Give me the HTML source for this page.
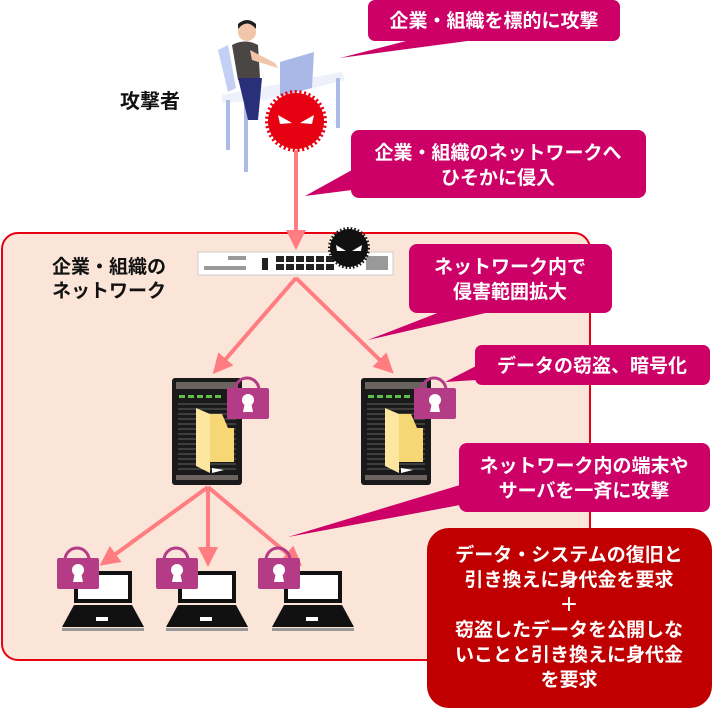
<!DOCTYPE html>
<html><head><meta charset="utf-8"><style>
html,body{margin:0;padding:0;background:#fff;}
svg{display:block;}
text{font-family:"Liberation Sans","Noto Sans CJK JP",sans-serif;font-weight:bold;}
</style></head><body>
<svg width="713" height="709" viewBox="0 0 713 709" xmlns="http://www.w3.org/2000/svg">
<defs>
<g id="lock">
<path d="M8 10 A12 12 0 0 1 32 10" fill="none" stroke="#b43c86" stroke-width="3"/>
<rect x="0" y="8" width="42" height="31" rx="2" fill="#b43c86"/>
<circle cx="21" cy="20" r="6" fill="#fff"/>
<path d="M18 22 L16 32 L26 32 L24 22Z" fill="#fff"/>
</g>
<g id="laptop">
<rect x="14" y="0" width="58" height="32" fill="#111"/>
<rect x="18" y="4" width="50" height="24" fill="#fff"/>
<path d="M14 34 L72 34 L84 56 L2 56 Z" fill="#111"/>
<rect x="36" y="46" width="12" height="4" fill="#fff"/>
<rect x="2" y="57" width="82" height="3" fill="#999"/>
</g>
<g id="server">
<rect x="0" y="0" width="70" height="107" rx="3" fill="#1a1a1a"/>
<rect x="4" y="4" width="62" height="7" fill="#6b6360"/>
<g fill="#5fbf4a"><rect x="7" y="17" width="6" height="3"/><rect x="16" y="17" width="6" height="3"/><rect x="25" y="17" width="6" height="3"/><rect x="34" y="17" width="6" height="3"/><rect x="43" y="17" width="6" height="3"/></g>
<g stroke="#555" stroke-width="1.2">
<line x1="6" y1="26" x2="64" y2="26"/><line x1="6" y1="31" x2="64" y2="31"/><line x1="6" y1="36" x2="64" y2="36"/><line x1="6" y1="41" x2="64" y2="41"/><line x1="6" y1="46" x2="64" y2="46"/><line x1="6" y1="51" x2="64" y2="51"/><line x1="6" y1="56" x2="64" y2="56"/><line x1="6" y1="61" x2="64" y2="61"/><line x1="6" y1="66" x2="64" y2="66"/><line x1="6" y1="71" x2="64" y2="71"/><line x1="6" y1="76" x2="64" y2="76"/><line x1="6" y1="81" x2="64" y2="81"/><line x1="6" y1="86" x2="64" y2="86"/><line x1="6" y1="91" x2="64" y2="91"/></g>
<rect x="4" y="97" width="62" height="5" fill="#6b6360"/>
<path d="M38 36 L50 36 L56 50 L62 50 L62 84 L38 84Z" fill="#f5d776"/>
<path d="M38 36 L38 95 L24 88 L24 30Z" fill="#fde7a0"/>
<path d="M40 95 L52 92 L40 90Z" fill="#fff"/>
</g>
<marker id="ah" markerWidth="5" markerHeight="5" refX="3" refY="2.5" orient="auto"><path d="M0 0 L5 2.5 L0 5Z" fill="#ff7c80"/></marker>
</defs>

<rect x="2" y="233" width="588" height="427" rx="16" fill="#fbe5d8" stroke="#e60012" stroke-width="2"/>

<!-- attacker figure -->
<g>
<path d="M218 50 L228 45 L236 88 L228 92Z" fill="#c3cff3"/>
<path d="M222 95 L300 80 L342 72 L345 80 L265 100 L222 103Z" fill="#eef1fc"/>
<line x1="228" y1="100" x2="228" y2="150" stroke="#aebbe6" stroke-width="4"/>
<line x1="246" y1="103" x2="246" y2="172" stroke="#aebbe6" stroke-width="4"/>
<line x1="338" y1="78" x2="338" y2="128" stroke="#aebbe6" stroke-width="4"/>
<path d="M232 45 Q245 38 258 45 L260 78 L238 80Z" fill="#4a4644"/>
<path d="M250 50 L275 63 L278 68 L252 60Z" fill="#f1c6a8"/>
<circle cx="247" cy="32" r="9" fill="#f1c6a8"/>
<path d="M238 29 Q247 18 256 29 L256 24 Q247 16 238 24Z" fill="#1e1e1e"/>
<path d="M238 78 L262 78 L258 120 L248 120Z" fill="#2a2f7a"/>
<path d="M280 62 L314 52 L312 88 L280 96Z" fill="#aab8e8"/>
</g>
<g transform="translate(296,121)">
<circle r="28" fill="#e60012" stroke="#e60012" stroke-width="6" stroke-dasharray="2 2.5"/>
<circle r="26" fill="#e60012"/>
<path d="M-18 -6 L-4 2 L-16 3Z" fill="#fff"/><path d="M18 -6 L4 2 L16 3Z" fill="#fff"/>
</g>
<text x="120" y="108" font-size="20" fill="#111">攻撃者</text>

<line x1="296" y1="150" x2="296" y2="242" stroke="#ff7c80" stroke-width="4" marker-end="url(#ah)"/>
<rect x="198" y="252" width="195" height="23" fill="#fff" stroke="#ccc"/>
<g fill="#222"><rect x="262" y="258" width="6" height="12"/>
<rect x="276" y="256" width="8" height="6"/><rect x="286" y="256" width="8" height="6"/><rect x="296" y="256" width="8" height="6"/><rect x="306" y="256" width="8" height="6"/><rect x="316" y="256" width="8" height="6"/><rect x="326" y="256" width="8" height="6"/>
<rect x="276" y="264" width="8" height="6"/><rect x="286" y="264" width="8" height="6"/><rect x="296" y="264" width="8" height="6"/><rect x="306" y="264" width="8" height="6"/><rect x="316" y="264" width="8" height="6"/><rect x="326" y="264" width="8" height="6"/></g>
<g fill="#999"><rect x="228" y="256" width="18" height="4"/><rect x="204" y="266" width="42" height="4"/><rect x="366" y="256" width="22" height="14"/></g>
<g transform="translate(349,248)">
<circle r="19" fill="#111" stroke="#111" stroke-width="4" stroke-dasharray="1.5 2"/>
<path d="M-13 -3 L-3 3 L-12 3Z" fill="#fff"/><path d="M13 -3 L3 3 L12 3Z" fill="#fff"/>
</g>
<text font-size="19" fill="#111"><tspan x="52" y="273">企業・組織の</tspan><tspan x="52" y="297">ネットワーク</tspan></text>

<g stroke="#ff7c80" stroke-width="4" marker-end="url(#ah)">
<line x1="296" y1="278" x2="218" y2="368"/>
<line x1="296" y1="278" x2="388" y2="368"/>
<line x1="208" y1="487" x2="106" y2="561"/>
<line x1="208" y1="487" x2="208" y2="559"/>
<line x1="208" y1="487" x2="296" y2="561"/>
</g>

<use href="#server" x="172" y="378"/>
<use href="#server" x="361" y="378"/>
<use href="#lock" x="227" y="380"/>
<use href="#lock" x="414" y="380"/>

<use href="#laptop" x="60" y="571"/>
<use href="#laptop" x="164" y="571"/>
<use href="#laptop" x="270" y="571"/>
<use href="#lock" x="57" y="550"/>
<use href="#lock" x="156" y="550"/>
<use href="#lock" x="258" y="550"/>

<g fill="#cc0066">
<rect x="368" y="0" width="252" height="41" rx="7"/><path d="M410 40 L475 40 L340 58Z"/>
<rect x="351" y="130" width="295" height="68" rx="8"/><path d="M352 170 L352 190 L305 196Z"/>
<rect x="409" y="244" width="203" height="69" rx="8"/><path d="M440 312 L490 312 L368 340Z"/>
<rect x="475" y="345" width="235" height="40" rx="7"/><path d="M476 366 L476 380 L445 382Z"/>
<rect x="459" y="443" width="251" height="69" rx="8"/><path d="M460 485 L460 505 L288 537Z"/>
</g>
<g font-size="19" fill="#fff" text-anchor="middle">
<text x="494" y="27">企業・組織を標的に攻撃</text>
<text x="498" y="159">企業・組織のネットワークへ</text>
<text x="498" y="184">ひそかに侵入</text>
<text x="510" y="273">ネットワーク内で</text>
<text x="510" y="298">侵害範囲拡大</text>
<text x="592" y="372">データの窃盗、暗号化</text>
<text x="584" y="472">ネットワーク内の端末や</text>
<text x="584" y="497">サーバを一斉に攻撃</text>
</g>
<rect x="427" y="528" width="285" height="180" rx="22" fill="#c00000"/>
<g font-size="19" fill="#fff" text-anchor="middle">
<text x="569" y="561">データ・システムの復旧と</text>
<text x="569" y="586">引き換えに身代金を要求</text>
<text x="569" y="611">＋</text>
<text x="569" y="636">窃盗したデータを公開しな</text>
<text x="569" y="661">いことと引き換えに身代金</text>
<text x="569" y="686">を要求</text>
</g>
</svg>
</body></html>
